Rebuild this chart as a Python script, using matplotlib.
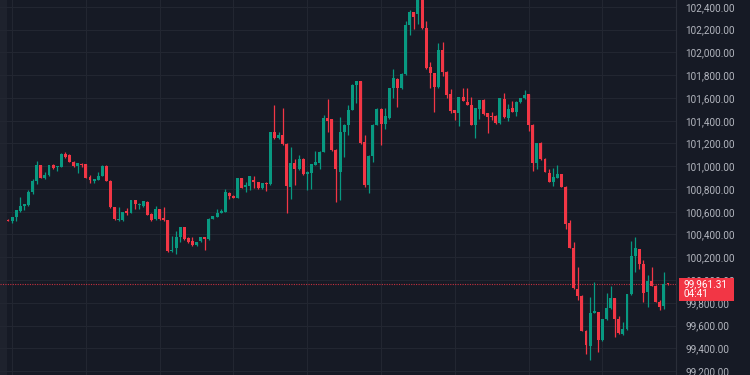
import matplotlib
matplotlib.use('Agg')
import matplotlib.pyplot as plt
from matplotlib.patches import Rectangle
from matplotlib.ticker import FuncFormatter
import numpy as np

# OHLC values, one per candle
opens = [100530, 100516, 100551, 100610, 100650, 100660, 100770, 100873, 101008, 100895,
         100920, 101008, 100990, 100997, 101108, 101100, 101040, 101003, 101020, 101017,
         100905, 100870, 100880, 100915, 101000, 100873, 100640, 100525, 100530, 100610,
         100592, 100700, 100660, 100650, 100685, 100580, 100533, 100622, 100545, 100525,
         100255, 100285, 100375, 100463, 100365, 100343, 100308, 100340, 100375, 100357,
         100540, 100557, 100590, 100600, 100765, 100740, 100725, 100895, 100815, 100830,
         100880, 100860, 100805, 100845, 100840, 101298, 101245, 101275, 101195, 100820,
         101030, 100973, 101065, 100928, 100940, 101015, 101025, 101128, 101420, 101413,
         101143, 100952, 101300, 101362, 101495, 101715, 101745, 101215, 100835, 101090,
         101363, 101505, 101372, 101420, 101685, 101767, 101685, 101810, 102240, 102353,
         102335, 102460, 102218, 101875, 101817, 101694, 102022, 101831, 101632, 101490,
         101470, 101607, 101565, 101540, 101363, 101505, 101582, 101465, 101440, 101442,
         101378, 101590, 101420, 101510, 101477, 101565, 101598, 101632, 101363, 101030,
         101200, 101067, 100938, 100862, 100900, 100930, 100820, 100500, 100285, 99920,
         99860, 99555, 99423, 99713, 99717, 99470, 99655, 99752, 99840, 99655,
         99525, 99565, 99875, 100208, 100270, 100140, 99898, 99995, 99948, 99808,
         99770, 99970]
highs = [100535, 100558, 100618, 100727, 100672, 100790, 100892, 101043, 101012, 100950,
         101012, 101020, 101005, 101112, 101128, 101105, 101045, 101030, 101030, 101020,
         100923, 100890, 100945, 101008, 101012, 100878, 100645, 100640, 100600, 100630,
         100705, 100705, 100675, 100695, 100690, 100585, 100650, 100628, 100640, 100530,
         100390, 100430, 100468, 100468, 100380, 100380, 100335, 100380, 100380, 100545,
         100565, 100620, 100620, 100800, 100770, 100745, 100900, 100900, 100865, 100915,
         100910, 100865, 100855, 100865, 101305, 101540, 101305, 101510, 101200, 101165,
         101065, 101095, 101070, 100955, 101022, 101130, 101133, 101450, 101590, 101418,
         101148, 101435, 101375, 101540, 101725, 101750, 101750, 101275, 101095, 101368,
         101510, 101510, 101510, 101690, 101855, 101772, 101815, 102280, 102375, 102358,
         102490, 102480, 102280, 101920, 101822, 102080, 102090, 101836, 101675, 101495,
         101612, 101685, 101690, 101610, 101515, 101585, 101587, 101470, 101475, 101447,
         101603, 101645, 101545, 101575, 101570, 101603, 101668, 101637, 101368, 101205,
         101215, 101072, 100975, 100985, 101010, 100935, 100825, 100530, 100330, 100117,
         99865, 99560, 99848, 99980, 99722, 99660, 99890, 99945, 99845, 99680,
         99635, 99880, 100340, 100380, 100275, 100175, 100040, 100117, 99953, 99825,
         100073, 99975]
lows = [100518, 100505, 100520, 100600, 100615, 100652, 100760, 100840, 100895, 100888,
        100915, 100975, 100955, 100990, 101075, 101035, 100995, 100940, 100995, 100895,
        100852, 100855, 100875, 100910, 100868, 100635, 100528, 100518, 100515, 100570,
        100588, 100620, 100625, 100645, 100570, 100520, 100528, 100528, 100520, 100250,
        100250, 100225, 100330, 100353, 100325, 100300, 100300, 100335, 100264, 100352,
        100535, 100552, 100585, 100595, 100710, 100720, 100720, 100808, 100770, 100790,
        100808, 100800, 100800, 100780, 100835, 101240, 101240, 101190, 100590, 100710,
        100835, 100968, 100922, 100790, 100798, 101010, 100975, 101123, 101305, 101138,
        100688, 100705, 101085, 101275, 101490, 101560, 101195, 100820, 100765, 101040,
        101358, 101190, 101330, 101415, 101600, 101518, 101675, 101805, 102150, 102210,
        102250, 102205, 101855, 101690, 101480, 101688, 101795, 101598, 101466, 101405,
        101355, 101572, 101535, 101358, 101250, 101418, 101452, 101290, 101405, 101373,
        101373, 101425, 101400, 101475, 101445, 101560, 101593, 101310, 100960, 100975,
        101055, 100945, 100857, 100825, 100895, 100815, 100450, 100280, 99920, 99825,
        99550, 99350, 99295, 99708, 99365, 99465, 99650, 99747, 99500, 99525,
        99520, 99560, 99870, 100073, 100095, 99810, 99766, 99943, 99805, 99740,
        99748, 99958]
closes = [100522, 100551, 100613, 100650, 100666, 100777, 100873, 101008, 100900, 100923,
          101008, 100985, 101000, 101108, 101080, 101040, 101000, 101026, 101014, 100900,
          100876, 100885, 100917, 101002, 100873, 100640, 100535, 100540, 100595, 100592,
          100700, 100665, 100670, 100690, 100575, 100525, 100622, 100533, 100525, 100255,
          100265, 100375, 100463, 100358, 100337, 100308, 100330, 100375, 100360, 100540,
          100560, 100592, 100610, 100770, 100735, 100725, 100895, 100812, 100835, 100910,
          100860, 100806, 100850, 100840, 101300, 101245, 101275, 101195, 100826, 101025,
          100973, 101060, 100928, 100950, 101018, 101035, 101128, 101420, 101400, 101143,
          100973, 101304, 101362, 101495, 101715, 101745, 101200, 100835, 101090, 101363,
          101505, 101373, 101440, 101685, 101773, 101690, 101810, 102240, 102353, 102315,
          102470, 102212, 101860, 101817, 101694, 102022, 101831, 101626, 101486, 101467,
          101607, 101577, 101540, 101363, 101510, 101580, 101457, 101430, 101430, 101378,
          101598, 101430, 101505, 101480, 101565, 101598, 101625, 101363, 101030, 101200,
          101060, 100950, 100862, 100903, 100930, 100820, 100490, 100285, 99927, 99860,
          99555, 99430, 99713, 99725, 99470, 99655, 99752, 99840, 99655, 99530,
          99565, 99875, 100210, 100280, 100145, 99888, 99995, 99948, 99810, 99765,
          99963, 99961]

last_price = 99961.31
countdown = '04:41'
price_ticks = [99200, 99400, 99600, 99800, 100000, 100200, 100400, 100600, 100800,
               101000, 101200, 101400, 101600, 101800, 102000, 102200, 102400]

bg = '#161a25'
green = '#089981'
red = '#f23645'
grid_c = '#222631'

o = np.array(opens, dtype=float)
h = np.array(highs, dtype=float)
l = np.array(lows, dtype=float)
c = np.array(closes, dtype=float)
n = len(o)
x = np.arange(n)
cols = np.where(c >= o, green, red)

fig = plt.figure(figsize=(7.5, 3.75), dpi=100, facecolor=bg)
ax = fig.add_axes([0, 0, 676 / 750, 1], facecolor=bg)

ax.vlines(x, l, h, colors=cols, linewidth=0.9, zorder=3)
ax.bar(x, np.maximum(np.abs(c - o), 9), bottom=np.minimum(o, c), width=0.72,
       color=cols, linewidth=0, zorder=4)

ax.set_xlim(-1.95, 162.95)
ax.set_ylim(99165, 102461)

ax.set_xticks(range(1, n, 18))
ax.set_yticks(price_ticks)
ax.yaxis.set_major_formatter(FuncFormatter(lambda v, p: f'{v:,.2f}'))
ax.yaxis.tick_right()
ax.tick_params(axis='x', length=0, labelbottom=False)
ax.tick_params(axis='y', length=0, pad=6.5, labelsize=7.2, labelcolor='#b2b5be')
for lab in ax.get_yticklabels():
    lab.set_fontfamily(['Roboto', 'DejaVu Sans'])
ax.grid(color=grid_c, linewidth=0.8, zorder=0)
for s in ['top', 'left', 'bottom']:
    ax.spines[s].set_visible(False)
ax.spines['right'].set_color('#2a2e39')
ax.spines['right'].set_linewidth(0.8)

# left edge strip
ax.axvspan(-1.95, -0.2, color='#1e222d', zorder=1, linewidth=0)

# last price line + label
ax.axhline(last_price, color=red, linestyle=(0, (1, 1.2)), linewidth=0.8, alpha=0.8, zorder=2)
y_px = ax.transData.transform((0, last_price))[1]
fig.add_artist(Rectangle((679 / 750, (y_px - 16.6) / 375), 55 / 750, 23 / 375,
                         transform=fig.transFigure, facecolor=red, edgecolor='none', zorder=10))
fig.text(683 / 750, (y_px + 0.5) / 375, f'{last_price:,.2f}', color='white', fontsize=7.2,
         family=['Roboto', 'DejaVu Sans'], va='center', ha='left', zorder=11)
fig.text(683 / 750, (y_px - 9.5) / 375, countdown, color='white', fontsize=7.2,
         family=['Roboto', 'DejaVu Sans'], va='center', ha='left', zorder=11)

fig.savefig('out.png', dpi=100, facecolor=bg)
